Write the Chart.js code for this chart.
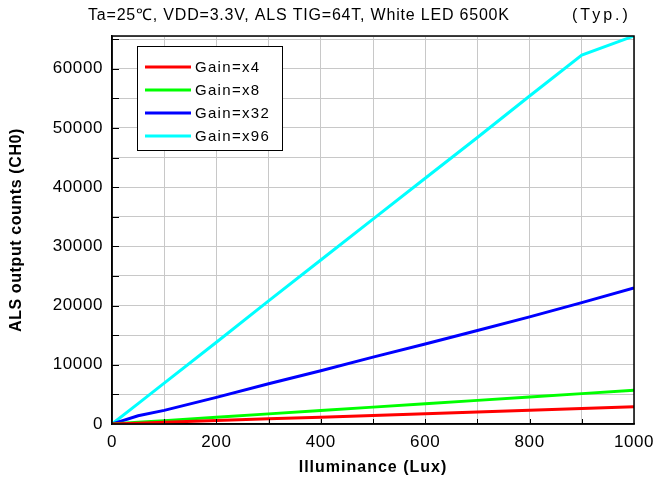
<!DOCTYPE html>
<html><head><meta charset="utf-8">
<script src="https://cdn.jsdelivr.net/npm/chart.js@4/dist/chart.umd.min.js"></script>
<style>html,body{margin:0;padding:0;background:#fff}#wrap{width:655px;height:487px;position:relative}</style>
</head><body><div id="wrap"><canvas id="c" width="655" height="487"></canvas></div>
<script>
const titleText = "Ta=25\u2103, VDD=3.3V, ALS TIG=64T, White LED 6500K";
const typText = "(Typ.)";
const xTitle = "Illuminance (Lux)";
const yTitle = "ALS output counts (CH0)";
const seriesNames = ["Gain=x4", "Gain=x8", "Gain=x32", "Gain=x96"];
const seriesColors = ["#ff0000", "#00ff00", "#0000ff", "#00ffff"];
const lux = [0, 50, 100, 200, 300, 400, 500, 600, 700, 800, 900, 1000];
const gainX4 = [0, 140, 290, 580, 870, 1160, 1450, 1740, 2030, 2320, 2610, 2900];
const gainX8 = [0, 280, 570, 1140, 1710, 2280, 2850, 3420, 3990, 4560, 5130, 5700];
const gainX32 = [0, 1400, 2300, 4500, 6800, 9000, 11300, 13500, 15800, 18100, 20500, 23000];
const gainX96 = [0, 3450, 6900, 13800, 20800, 27700, 34600, 41500, 48400, 55400, 62300, 65535];
const xTickLabels = [0, 200, 400, 600, 800, 1000];
const yTickLabels = [0, 10000, 20000, 30000, 40000, 50000, 60000];
const yGridValues = [0, 5000, 10000, 15000, 20000, 25000, 30000, 35000, 40000, 45000, 50000, 55000, 60000, 65000, 65535];

const all = [gainX4, gainX8, gainX32, gainX96];
const datasets = all.map((arr, i) => ({
  label: seriesNames[i],
  data: lux.map((x, j) => ({x: x, y: arr[j]})),
  borderColor: seriesColors[i],
  backgroundColor: seriesColors[i],
  borderWidth: 3,
  pointRadius: 0,
  tension: 0,
  fill: false
}));

const FONT = "'Liberation Sans', Arial, sans-serif";

const decor = {
  id: 'decor',
  beforeDraw(chart) {
    chart.ctx.letterSpacing = '0.6px';
  },
  afterDraw(chart) {
    const ctx = chart.ctx, a = chart.chartArea;
    const xs = chart.scales.x, ys = chart.scales.y;
    ctx.save();
    // inward tick marks
    ctx.strokeStyle = '#000'; ctx.lineWidth = 1;
    for (let v = 100; v < 1000; v += 100) {
      const px = Math.round(xs.getPixelForValue(v)) + 0.5;
      ctx.beginPath(); ctx.moveTo(px, a.bottom); ctx.lineTo(px, a.bottom - 5); ctx.stroke();
    }
    for (let v = 5000; v <= 65000; v += 5000) {
      const py = Math.round(ys.getPixelForValue(v)) + 0.5;
      ctx.beginPath(); ctx.moveTo(a.left, py); ctx.lineTo(a.left + 7, py); ctx.stroke();
    }
    // frame
    ctx.lineWidth = 1.5;
    ctx.strokeRect(a.left, a.top, a.right - a.left, a.bottom - a.top);
    // title
    ctx.fillStyle = '#000';
    ctx.font = "16px " + FONT;
    ctx.letterSpacing = '0.8px';
    ctx.textBaseline = 'middle';
    ctx.textAlign = 'left';
    ctx.fillText(titleText, 88, 16);
    ctx.letterSpacing = '3px';
    ctx.fillText(typText, 572, 16);
    // axis titles
    ctx.font = "bold 16px " + FONT;
    ctx.letterSpacing = '1px';
    ctx.textAlign = 'center';
    ctx.fillText(xTitle, (a.left + a.right) / 2, 468);
    ctx.save();
    ctx.translate(17, (a.top + a.bottom) / 2);
    ctx.rotate(-Math.PI / 2);
    ctx.letterSpacing = '0.6px';
    ctx.fillText(yTitle, 0, 0);
    ctx.restore();
    // legend
    const lx = 137, ly = 46, lw = 145, lh = 104;
    ctx.fillStyle = '#fff';
    ctx.fillRect(lx, ly, lw, lh);
    ctx.lineWidth = 1;
    ctx.strokeStyle = '#000';
    ctx.strokeRect(lx + 0.5, ly + 0.5, lw, lh);
    ctx.font = "15px " + FONT;
    ctx.letterSpacing = '1.3px';
    ctx.textAlign = 'left';
    chart.data.datasets.forEach((ds, i) => {
      const yy = ly + 21 + i * 23;
      ctx.strokeStyle = ds.borderColor;
      ctx.lineWidth = 3;
      ctx.beginPath(); ctx.moveTo(lx + 8, yy); ctx.lineTo(lx + 54, yy); ctx.stroke();
      ctx.fillStyle = '#000';
      ctx.fillText(ds.label, lx + 58, yy + 1);
    });
    ctx.restore();
  }
};

new Chart(document.getElementById('c'), {
  type: 'line',
  data: { datasets: datasets },
  options: {
    responsive: false,
    animation: false,
    layout: { padding: { top: 36, right: 21, left: 0, bottom: 0 } },
    plugins: { legend: { display: false }, tooltip: { enabled: false }, title: { display: false } },
    scales: {
      x: {
        type: 'linear', min: 0, max: 1000,
        afterFit: s => { s.height = 63; s.paddingRight = 0; s.paddingLeft = 0; },
        ticks: {
          stepSize: 100, color: '#000', padding: 8, maxRotation: 0, autoSkip: false,
          font: { family: FONT, size: 17 },
          callback: v => xTickLabels.includes(Math.round(v)) ? String(Math.round(v)) : ''
        },
        grid: { color: '#c8c8c8', lineWidth: 1, drawTicks: false },
        border: { color: '#000', width: 1.5 }
      },
      y: {
        type: 'linear', min: 0, max: 65535,
        afterFit: s => { s.width = 112; s.paddingTop = 0; s.paddingBottom = 0; },
        afterBuildTicks: s => { s.ticks = yGridValues.map(v => ({ value: v })); },
        ticks: {
          color: '#000', padding: 9, autoSkip: false,
          font: { family: FONT, size: 17 },
          callback: v => yTickLabels.includes(Math.round(v)) ? String(Math.round(v)) : ''
        },
        grid: { color: '#c8c8c8', lineWidth: 1, drawTicks: false },
        border: { color: '#000', width: 1.5 }
      }
    }
  },
  plugins: [decor]
});
</script></body></html>
